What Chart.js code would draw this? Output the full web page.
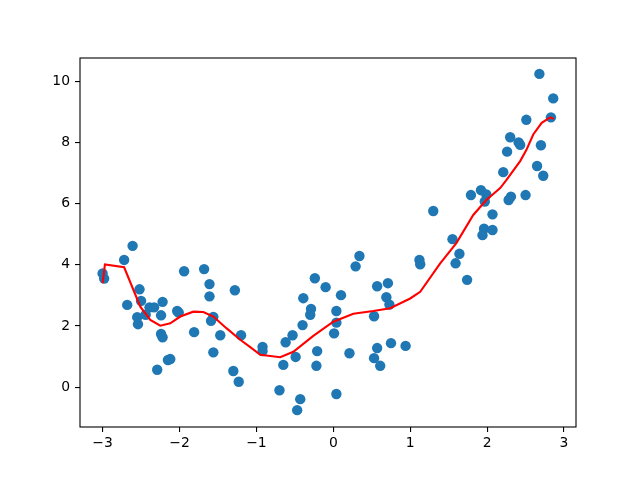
<!DOCTYPE html>
<html>
<head>
<meta charset="utf-8">
<script src="https://cdn.jsdelivr.net/npm/chart.js@4/dist/chart.umd.min.js"></script>
<style>
  html, body { margin: 0; padding: 0; background: #fff; }
  #wrap { width: 640px; height: 480px; }
</style>
</head>
<body>
<div id="wrap"><canvas id="chart" width="640" height="480"></canvas></div>
<script>
// scatter points (x, y)
const pointX = [-2.61, -2.72, -3.00, -2.98, -1.94, -1.68, -1.61, -1.61, -1.28, -2.52,
                -2.50, -2.68, -2.39, -2.33, -2.22, -2.24, -2.55, -2.44, -2.54, -2.03,
                -2.01, -1.56, -1.59, -1.81, -2.24, -2.22, -1.47, -1.20, -1.56, -2.15,
                -2.12, -2.29, -1.30, -1.23, 0.34, 0.29, -0.24, -0.10, 0.10, -0.39,
                0.57, 0.71, 0.69, 0.73, -0.29, -0.30, 0.04, 0.04, 0.01, 0.53,
                -0.40, -0.53, -0.62, -0.92, -0.92, -0.21, -0.49, -0.65, -0.22, 0.21,
                0.57, 0.75, 0.94, 0.53, 0.61, -0.70, -0.43, -0.47, 0.04, 2.26,
                2.65, 2.73, 2.21, 1.92, 1.99, 1.79, 1.97, 2.31, 2.28, 2.50,
                1.30, 2.07, 1.96, 2.07, 1.94, 1.55, 1.64, 1.59, 1.12, 1.13,
                1.74, 2.68, 2.86, 2.83, 2.51, 2.30, 2.41, 2.43, 2.70];
const pointY = [4.62, 4.16, 3.72, 3.55, 3.79, 3.86, 3.37, 2.97, 3.17, 3.20,
                2.82, 2.69, 2.61, 2.61, 2.79, 2.35, 2.29, 2.37, 2.06, 2.49,
                2.44, 2.30, 2.17, 1.80, 1.74, 1.63, 1.70, 1.70, 1.14, 0.89,
                0.92, 0.57, 0.53, 0.18, 4.29, 3.95, 3.56, 3.27, 3.01, 2.91,
                3.30, 3.40, 2.94, 2.70, 2.56, 2.37, 2.49, 2.11, 1.76, 2.32,
                2.03, 1.70, 1.47, 1.32, 1.18, 1.18, 0.99, 0.73, 0.70, 1.11,
                1.28, 1.44, 1.35, 0.95, 0.70, -0.10, -0.39, -0.75, -0.22, 7.70,
                7.23, 6.91, 7.03, 6.44, 6.30, 6.28, 6.07, 6.23, 6.12, 6.28,
                5.76, 5.65, 5.18, 5.14, 4.97, 4.84, 4.36, 4.05, 4.16, 4.02,
                3.51, 10.24, 9.44, 8.82, 8.74, 8.17, 8.00, 7.92, 7.91];

// red fitted curve
const lineX = [-3.00, -2.97, -2.72, -2.51, -2.38, -2.25, -2.12, -1.99, -1.82, -1.69,
               -1.56, -1.39, -1.21, -1.08, -0.95, -0.69, -0.52, -0.26, 0.00, 0.26,
               0.52, 0.74, 1.00, 1.13, 1.39, 1.60, 1.82, 1.99, 2.17, 2.25,
               2.43, 2.51, 2.60, 2.71, 2.82, 2.87];
const lineY = [3.40, 4.01, 3.92, 2.63, 2.20, 2.01, 2.09, 2.31, 2.47, 2.46,
               2.31, 1.93, 1.55, 1.31, 1.06, 0.98, 1.16, 1.68, 2.14, 2.40,
               2.49, 2.58, 2.90, 3.12, 4.05, 4.71, 5.63, 6.12, 6.51, 6.77,
               7.39, 7.75, 8.26, 8.64, 8.82, 8.77];

const xTicks = [-3, -2, -1, 0, 1, 2, 3];
const yTicks = [0, 2, 4, 6, 8, 10];

const scatterData = pointX.map((x, i) => ({ x: x, y: pointY[i] }));
const lineData = lineX.map((x, i) => ({ x: x, y: lineY[i] }));

const fmt = v => (v < 0 ? '\u2212' + Math.abs(v) : String(v));

// matplotlib-style frame round the plot area
const framePlugin = {
    id: 'frame',
    afterDraw(chart) {
        const a = chart.chartArea;
        const ctx = chart.ctx;
        ctx.save();
        ctx.strokeStyle = '#000';
        ctx.lineWidth = 1.1;
        ctx.strokeRect(a.left, a.top, a.right - a.left, a.bottom - a.top);
        ctx.restore();
    }
};

const tickFont = { family: 'DejaVu Sans', size: 13.9 };

new Chart(document.getElementById('chart').getContext('2d'), {
    type: 'scatter',
    data: {
        datasets: [
            {
                type: 'line',
                data: lineData,
                borderColor: '#ff0000',
                borderWidth: 2.1,
                pointRadius: 0,
                tension: 0,
                fill: false,
                order: 0
            },
            {
                data: scatterData,
                backgroundColor: '#1f77b4',
                borderWidth: 0,
                pointRadius: 5.2,
                pointHoverRadius: 5.2,
                order: 1
            }
        ]
    },
    options: {
        responsive: false,
        animation: false,
        events: [],
        layout: { padding: { left: 0, top: 58, right: 64, bottom: 0 } },
        plugins: { legend: { display: false }, tooltip: { enabled: false } },
        scales: {
            x: {
                type: 'linear',
                min: -3.294,
                max: 3.156,
                afterBuildTicks: s => { s.ticks = xTicks.map(v => ({ value: v })); },
                afterFit: s => { s.height = 53; },
                grid: { drawOnChartArea: false, drawTicks: true, tickLength: 5, color: '#000', lineWidth: 1.1 },
                border: { display: false },
                ticks: { color: '#000', font: tickFont, padding: 3, maxRotation: 0, callback: v => fmt(v) }
            },
            y: {
                type: 'linear',
                min: -1.30,
                max: 10.76,
                afterBuildTicks: s => { s.ticks = yTicks.map(v => ({ value: v })); },
                afterFit: s => { s.width = 80; },
                grid: { drawOnChartArea: false, drawTicks: true, tickLength: 5, color: '#000', lineWidth: 1.1 },
                border: { display: false },
                ticks: { color: '#000', font: tickFont, padding: 5, callback: v => fmt(v) }
            }
        }
    },
    plugins: [framePlugin]
});
</script>
</body>
</html>
